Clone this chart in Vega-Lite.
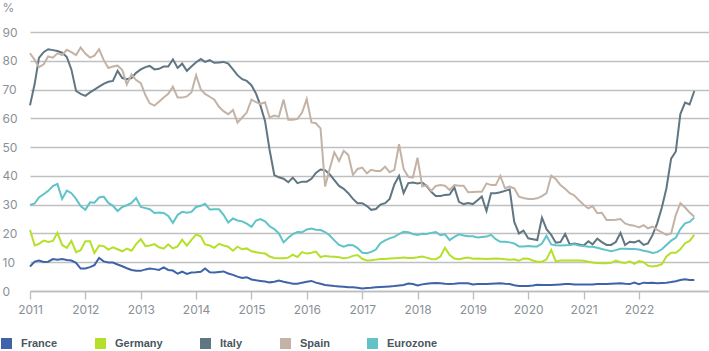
{
"$schema": "https://vega.github.io/schema/vega-lite/v6.json",
"width": 679, "height": 259,
"autosize": {"type": "none"},
"padding": {"left": 30, "top": 32, "right": 0, "bottom": 60},
"background": "white",
"config": {"view": {"stroke": null}, "font": "Inter"},
"data": {"values": [
{"d":"2011-01-01","France":8.5,"Germany":21.2,"Italy":64.5,"Spain":82.6,"Eurozone":29.9},
{"d":"2011-02-01","France":10.2,"Germany":15.8,"Italy":72,"Spain":80.3,"Eurozone":30.4},
{"d":"2011-03-01","France":10.6,"Germany":16.4,"Italy":81,"Spain":77.8,"Eurozone":32.5},
{"d":"2011-04-01","France":10.1,"Germany":17.5,"Italy":83,"Spain":78.8,"Eurozone":33.6},
{"d":"2011-05-01","France":10.2,"Germany":17,"Italy":84,"Spain":81.5,"Eurozone":34.8},
{"d":"2011-06-01","France":11.1,"Germany":17.4,"Italy":83.7,"Spain":81.1,"Eurozone":36.5},
{"d":"2011-07-01","France":10.9,"Germany":20.2,"Italy":83.4,"Spain":82.6,"Eurozone":37.2},
{"d":"2011-08-01","France":11.1,"Germany":16,"Italy":82.8,"Spain":82,"Eurozone":32},
{"d":"2011-09-01","France":10.8,"Germany":15,"Italy":81.3,"Spain":83.8,"Eurozone":34.9},
{"d":"2011-10-01","France":10.6,"Germany":17.4,"Italy":77,"Spain":83,"Eurozone":34},
{"d":"2011-11-01","France":9.8,"Germany":13.5,"Italy":69.5,"Spain":82,"Eurozone":32},
{"d":"2011-12-01","France":7.8,"Germany":14.2,"Italy":68.5,"Spain":84.6,"Eurozone":29.5},
{"d":"2012-01-01","France":7.8,"Germany":17.3,"Italy":67.8,"Spain":82.5,"Eurozone":28.2},
{"d":"2012-02-01","France":8.3,"Germany":17.3,"Italy":69,"Spain":81.1,"Eurozone":30.8},
{"d":"2012-03-01","France":9,"Germany":13.2,"Italy":70,"Spain":81.8,"Eurozone":30.7},
{"d":"2012-04-01","France":11.5,"Germany":15.8,"Italy":71,"Spain":84,"Eurozone":32.5},
{"d":"2012-05-01","France":10.3,"Germany":15.6,"Italy":72,"Spain":80.3,"Eurozone":32.8},
{"d":"2012-06-01","France":9.9,"Germany":14.4,"Italy":72.7,"Spain":77.5,"Eurozone":30.6},
{"d":"2012-07-01","France":9.9,"Germany":15.2,"Italy":73,"Spain":78,"Eurozone":29.6},
{"d":"2012-08-01","France":9.2,"Germany":14.5,"Italy":76.5,"Spain":78.3,"Eurozone":27.8},
{"d":"2012-09-01","France":8.6,"Germany":13.8,"Italy":74,"Spain":76.8,"Eurozone":29.2},
{"d":"2012-10-01","France":7.9,"Germany":14.7,"Italy":73.6,"Spain":71.8,"Eurozone":29.8},
{"d":"2012-11-01","France":7.3,"Germany":14,"Italy":74,"Spain":75.3,"Eurozone":30.6},
{"d":"2012-12-01","France":7,"Germany":16.3,"Italy":75.8,"Spain":73.3,"Eurozone":32.3},
{"d":"2013-01-01","France":7,"Germany":18,"Italy":77,"Spain":72.2,"Eurozone":29.2},
{"d":"2013-02-01","France":7.5,"Germany":15.6,"Italy":77.8,"Spain":68,"Eurozone":28.8},
{"d":"2013-03-01","France":7.8,"Germany":15.8,"Italy":78.2,"Spain":65.2,"Eurozone":28.4},
{"d":"2013-04-01","France":7.6,"Germany":16.3,"Italy":77,"Spain":64.4,"Eurozone":27.1},
{"d":"2013-05-01","France":7.3,"Germany":15.2,"Italy":77.2,"Spain":65.8,"Eurozone":27.3},
{"d":"2013-06-01","France":8.2,"Germany":14.7,"Italy":78,"Spain":67.2,"Eurozone":27.1},
{"d":"2013-07-01","France":7.3,"Germany":16.2,"Italy":78,"Spain":68.5,"Eurozone":26.1},
{"d":"2013-08-01","France":7.1,"Germany":14.8,"Italy":80.5,"Spain":71,"Eurozone":23.7},
{"d":"2013-09-01","France":6,"Germany":15.5,"Italy":77.5,"Spain":67.2,"Eurozone":26.4},
{"d":"2013-10-01","France":6.7,"Germany":17.8,"Italy":79,"Spain":67.2,"Eurozone":27.5},
{"d":"2013-11-01","France":5.9,"Germany":15.8,"Italy":76.5,"Spain":67.6,"Eurozone":27.2},
{"d":"2013-12-01","France":6.4,"Germany":17.8,"Italy":78,"Spain":69,"Eurozone":27.5},
{"d":"2014-01-01","France":6.5,"Germany":19.6,"Italy":79.5,"Spain":75,"Eurozone":29.2},
{"d":"2014-02-01","France":6.7,"Germany":19,"Italy":80.6,"Spain":70,"Eurozone":29.6},
{"d":"2014-03-01","France":7.8,"Germany":16.2,"Italy":79.6,"Spain":68.5,"Eurozone":30.3},
{"d":"2014-04-01","France":6.5,"Germany":15.8,"Italy":80.2,"Spain":67.5,"Eurozone":28.3},
{"d":"2014-05-01","France":6.4,"Germany":15,"Italy":79.3,"Spain":66.5,"Eurozone":28.4},
{"d":"2014-06-01","France":6.6,"Germany":16.4,"Italy":79.4,"Spain":64,"Eurozone":28.4},
{"d":"2014-07-01","France":6.8,"Germany":15.8,"Italy":79.6,"Spain":62.5,"Eurozone":26.5},
{"d":"2014-08-01","France":6.1,"Germany":15.4,"Italy":79,"Spain":61.4,"Eurozone":23.8},
{"d":"2014-09-01","France":5.6,"Germany":14,"Italy":77,"Spain":62.9,"Eurozone":25.2},
{"d":"2014-10-01","France":5,"Germany":15.4,"Italy":75,"Spain":58.5,"Eurozone":24.5},
{"d":"2014-11-01","France":4.5,"Germany":14.5,"Italy":73.6,"Spain":60.3,"Eurozone":24.2},
{"d":"2014-12-01","France":4.8,"Germany":14.8,"Italy":73,"Spain":62,"Eurozone":23.4},
{"d":"2015-01-01","France":4,"Germany":13.8,"Italy":71.5,"Spain":66.5,"Eurozone":22.3},
{"d":"2015-02-01","France":3.7,"Germany":13.5,"Italy":68.5,"Spain":65.6,"Eurozone":24.5},
{"d":"2015-03-01","France":3.5,"Germany":13.2,"Italy":64.5,"Spain":65,"Eurozone":25},
{"d":"2015-04-01","France":3.3,"Germany":13,"Italy":59,"Spain":65.6,"Eurozone":24.2},
{"d":"2015-05-01","France":3,"Germany":12,"Italy":49,"Spain":60.3,"Eurozone":22.5},
{"d":"2015-06-01","France":3.2,"Germany":11.5,"Italy":40.3,"Spain":61,"Eurozone":21.5},
{"d":"2015-07-01","France":3.6,"Germany":11.4,"Italy":39.5,"Spain":60.6,"Eurozone":20},
{"d":"2015-08-01","France":3.2,"Germany":11.4,"Italy":39,"Spain":66.5,"Eurozone":16.9},
{"d":"2015-09-01","France":2.9,"Germany":11.6,"Italy":37.8,"Spain":59.5,"Eurozone":18.5},
{"d":"2015-10-01","France":2.5,"Germany":12.6,"Italy":39.4,"Spain":59.5,"Eurozone":19.8},
{"d":"2015-11-01","France":2.5,"Germany":11.8,"Italy":37.5,"Spain":59.8,"Eurozone":20.5},
{"d":"2015-12-01","France":2.9,"Germany":13.5,"Italy":38,"Spain":62,"Eurozone":20.4},
{"d":"2016-01-01","France":3.2,"Germany":13,"Italy":38,"Spain":66.7,"Eurozone":21.4},
{"d":"2016-02-01","France":3.5,"Germany":13.3,"Italy":39,"Spain":58.6,"Eurozone":21.7},
{"d":"2016-03-01","France":2.9,"Germany":13.7,"Italy":41,"Spain":58.3,"Eurozone":21.3},
{"d":"2016-04-01","France":2.5,"Germany":11.8,"Italy":42.2,"Spain":56.5,"Eurozone":21.2},
{"d":"2016-05-01","France":2.1,"Germany":12.2,"Italy":42,"Spain":36.3,"Eurozone":20.5},
{"d":"2016-06-01","France":1.9,"Germany":12,"Italy":40.5,"Spain":42.6,"Eurozone":19.3},
{"d":"2016-07-01","France":1.7,"Germany":11.9,"Italy":38.5,"Spain":48.2,"Eurozone":17.6},
{"d":"2016-08-01","France":1.6,"Germany":11.7,"Italy":36.5,"Spain":45.2,"Eurozone":16},
{"d":"2016-09-01","France":1.5,"Germany":11.4,"Italy":35.5,"Spain":48.7,"Eurozone":15.4},
{"d":"2016-10-01","France":1.3,"Germany":11.6,"Italy":34,"Spain":47.3,"Eurozone":16},
{"d":"2016-11-01","France":1.3,"Germany":12.2,"Italy":32,"Spain":40.3,"Eurozone":15.9},
{"d":"2016-12-01","France":1.1,"Germany":12.5,"Italy":30.5,"Spain":42.4,"Eurozone":14.9},
{"d":"2017-01-01","France":0.9,"Germany":11.2,"Italy":30.5,"Spain":42.9,"Eurozone":13.3},
{"d":"2017-02-01","France":1,"Germany":10.6,"Italy":29.5,"Spain":40.9,"Eurozone":13.1},
{"d":"2017-03-01","France":1.1,"Germany":10.7,"Italy":28.2,"Spain":42.1,"Eurozone":13.6},
{"d":"2017-04-01","France":1.3,"Germany":10.9,"Italy":28.5,"Spain":41.7,"Eurozone":14.4},
{"d":"2017-05-01","France":1.4,"Germany":11.1,"Italy":30,"Spain":41.7,"Eurozone":16.6},
{"d":"2017-06-01","France":1.5,"Germany":11.1,"Italy":30.5,"Spain":43.2,"Eurozone":17.6},
{"d":"2017-07-01","France":1.6,"Germany":11.3,"Italy":32,"Spain":41.3,"Eurozone":18.3},
{"d":"2017-08-01","France":1.7,"Germany":11.4,"Italy":37,"Spain":42.1,"Eurozone":18.8},
{"d":"2017-09-01","France":1.9,"Germany":11.5,"Italy":40,"Spain":51,"Eurozone":19.8},
{"d":"2017-10-01","France":2.1,"Germany":11.6,"Italy":34,"Spain":42.4,"Eurozone":20.6},
{"d":"2017-11-01","France":2.6,"Germany":11.5,"Italy":37.5,"Spain":39.7,"Eurozone":20.4},
{"d":"2017-12-01","France":2.4,"Germany":11.5,"Italy":37.7,"Spain":39.4,"Eurozone":19.8},
{"d":"2018-01-01","France":1.9,"Germany":11.7,"Italy":37.4,"Spain":46.3,"Eurozone":19.5},
{"d":"2018-02-01","France":2.3,"Germany":12,"Italy":37.7,"Spain":36.3,"Eurozone":19.9},
{"d":"2018-03-01","France":2.5,"Germany":11.6,"Italy":36.5,"Spain":36.8,"Eurozone":19.8},
{"d":"2018-04-01","France":2.7,"Germany":11.1,"Italy":34.5,"Spain":34.8,"Eurozone":20.2},
{"d":"2018-05-01","France":2.8,"Germany":11,"Italy":33,"Spain":36.5,"Eurozone":20.5},
{"d":"2018-06-01","France":2.7,"Germany":12,"Italy":33,"Spain":36.8,"Eurozone":19.4},
{"d":"2018-07-01","France":2.5,"Germany":15,"Italy":33.4,"Spain":36.6,"Eurozone":19.7},
{"d":"2018-08-01","France":2.4,"Germany":12.5,"Italy":33.5,"Spain":35.1,"Eurozone":17.7},
{"d":"2018-09-01","France":2.5,"Germany":11.3,"Italy":36,"Spain":36.8,"Eurozone":18.8},
{"d":"2018-10-01","France":2.7,"Germany":11,"Italy":31,"Spain":36.6,"Eurozone":19.7},
{"d":"2018-11-01","France":2.7,"Germany":11.4,"Italy":30.2,"Spain":36.6,"Eurozone":19.3},
{"d":"2018-12-01","France":2.7,"Germany":11.6,"Italy":30.6,"Spain":34.3,"Eurozone":19},
{"d":"2019-01-01","France":2.3,"Germany":11.2,"Italy":30.2,"Spain":34.4,"Eurozone":19},
{"d":"2019-02-01","France":2.4,"Germany":11.3,"Italy":31.5,"Spain":34.5,"Eurozone":18.6},
{"d":"2019-03-01","France":2.4,"Germany":11.2,"Italy":32.8,"Spain":34.5,"Eurozone":18.8},
{"d":"2019-04-01","France":2.4,"Germany":11.1,"Italy":27.8,"Spain":37.4,"Eurozone":18.9},
{"d":"2019-05-01","France":2.5,"Germany":11.2,"Italy":34,"Spain":36.8,"Eurozone":19.5},
{"d":"2019-06-01","France":2.6,"Germany":11.3,"Italy":34,"Spain":36.8,"Eurozone":18},
{"d":"2019-07-01","France":2.7,"Germany":11.2,"Italy":34.3,"Spain":40,"Eurozone":17.1},
{"d":"2019-08-01","France":2.5,"Germany":11,"Italy":34.8,"Spain":35.7,"Eurozone":17.1},
{"d":"2019-09-01","France":2.4,"Germany":10.9,"Italy":35.3,"Spain":36.3,"Eurozone":16.9},
{"d":"2019-10-01","France":2,"Germany":11,"Italy":24,"Spain":35.7,"Eurozone":16.5},
{"d":"2019-11-01","France":1.7,"Germany":10.5,"Italy":20,"Spain":32.8,"Eurozone":15.5},
{"d":"2019-12-01","France":1.7,"Germany":11.3,"Italy":21,"Spain":32.3,"Eurozone":15.5},
{"d":"2020-01-01","France":1.7,"Germany":11.2,"Italy":18.3,"Spain":32,"Eurozone":15.6},
{"d":"2020-02-01","France":1.9,"Germany":10.6,"Italy":18,"Spain":32,"Eurozone":15.5},
{"d":"2020-03-01","France":2.2,"Germany":10.2,"Italy":17.7,"Spain":32.2,"Eurozone":15.5},
{"d":"2020-04-01","France":2.1,"Germany":10.2,"Italy":25.5,"Spain":33,"Eurozone":16.5},
{"d":"2020-05-01","France":2.1,"Germany":11,"Italy":21.5,"Spain":34,"Eurozone":19.2},
{"d":"2020-06-01","France":2.1,"Germany":14.3,"Italy":19.5,"Spain":40.1,"Eurozone":16.2},
{"d":"2020-07-01","France":2.2,"Germany":10.3,"Italy":16.8,"Spain":38.9,"Eurozone":15.9},
{"d":"2020-08-01","France":2.3,"Germany":10.6,"Italy":17,"Spain":36.8,"Eurozone":15.8},
{"d":"2020-09-01","France":2.4,"Germany":10.6,"Italy":19.8,"Spain":35.5,"Eurozone":15.9},
{"d":"2020-10-01","France":2.4,"Germany":10.6,"Italy":16.2,"Spain":34,"Eurozone":16},
{"d":"2020-11-01","France":2.3,"Germany":10.6,"Italy":16.5,"Spain":33.2,"Eurozone":16.2},
{"d":"2020-12-01","France":2.3,"Germany":10.6,"Italy":16.2,"Spain":31.5,"Eurozone":15.8},
{"d":"2021-01-01","France":2.3,"Germany":10.5,"Italy":15.8,"Spain":30,"Eurozone":15.6},
{"d":"2021-02-01","France":2.3,"Germany":10.2,"Italy":17.3,"Spain":28.7,"Eurozone":15.4},
{"d":"2021-03-01","France":2.3,"Germany":9.9,"Italy":16.2,"Spain":29.5,"Eurozone":15.4},
{"d":"2021-04-01","France":2.4,"Germany":9.7,"Italy":18.2,"Spain":27,"Eurozone":15},
{"d":"2021-05-01","France":2.4,"Germany":9.6,"Italy":17,"Spain":27.2,"Eurozone":14.6},
{"d":"2021-06-01","France":2.4,"Germany":9.6,"Italy":16,"Spain":24.7,"Eurozone":14.2},
{"d":"2021-07-01","France":2.5,"Germany":9.8,"Italy":16,"Spain":24.7,"Eurozone":13.8},
{"d":"2021-08-01","France":2.6,"Germany":10.6,"Italy":17,"Spain":24.8,"Eurozone":14.2},
{"d":"2021-09-01","France":2.7,"Germany":10,"Italy":20.2,"Spain":25,"Eurozone":14.7},
{"d":"2021-10-01","France":2.5,"Germany":9.7,"Italy":16,"Spain":23.5,"Eurozone":14.7},
{"d":"2021-11-01","France":2.4,"Germany":10.3,"Italy":17.1,"Spain":22.9,"Eurozone":14.6},
{"d":"2021-12-01","France":2.9,"Germany":9.4,"Italy":16.9,"Spain":22.7,"Eurozone":14.6},
{"d":"2022-01-01","France":2.4,"Germany":10.4,"Italy":17.5,"Spain":22.1,"Eurozone":14.4},
{"d":"2022-02-01","France":2.9,"Germany":10,"Italy":16,"Spain":22.9,"Eurozone":14},
{"d":"2022-03-01","France":2.8,"Germany":8.8,"Italy":16.5,"Spain":21.8,"Eurozone":13.7},
{"d":"2022-04-01","France":2.9,"Germany":8.5,"Italy":19.5,"Spain":22.4,"Eurozone":13.2},
{"d":"2022-05-01","France":2.7,"Germany":8.8,"Italy":23.5,"Spain":21.2,"Eurozone":13.5},
{"d":"2022-06-01","France":2.8,"Germany":9.3,"Italy":29,"Spain":20.4,"Eurozone":14.5},
{"d":"2022-07-01","France":2.9,"Germany":12,"Italy":35.7,"Spain":19.5,"Eurozone":16},
{"d":"2022-08-01","France":3.1,"Germany":13.3,"Italy":46,"Spain":20,"Eurozone":17.5},
{"d":"2022-09-01","France":3.4,"Germany":13.3,"Italy":48.5,"Spain":26.4,"Eurozone":18.5},
{"d":"2022-10-01","France":3.8,"Germany":14.5,"Italy":61.5,"Spain":30.5,"Eurozone":21.5},
{"d":"2022-11-01","France":4.1,"Germany":16.6,"Italy":65.5,"Spain":29,"Eurozone":23.5},
{"d":"2022-12-01","France":3.8,"Germany":17.4,"Italy":64.8,"Spain":27.3,"Eurozone":24},
{"d":"2023-01-01","France":3.8,"Germany":19.5,"Italy":69.5,"Spain":25.8,"Eurozone":25.5}
]},
"transform": [{"fold": ["France","Germany","Italy","Spain","Eurozone"], "as": ["country","value"]}],
"mark": {"type": "line", "strokeWidth": 2},
"encoding": {
  "x": {"field": "d", "type": "temporal",
    "scale": {"type": "utc", "domain": [{"year": 2011, "month": 1, "date": 1, "utc": true}, {"year": 2023, "month": 4, "date": 8, "utc": true}]},
    "axis": {"values": [{"year":2011,"utc":true},{"year":2012,"utc":true},{"year":2013,"utc":true},{"year":2014,"utc":true},{"year":2015,"utc":true},{"year":2016,"utc":true},{"year":2017,"utc":true},{"year":2018,"utc":true},{"year":2019,"utc":true},{"year":2020,"utc":true},{"year":2021,"utc":true},{"year":2022,"utc":true}],
      "format": "%Y", "title": null, "grid": false, "domain": true, "domainColor": "#bdbdbd", "domainWidth": 1.3,
      "ticks": true, "tickSize": 8, "tickColor": "#bdbdbd", "tickWidth": 1.3,
      "labelColor": "#8a9097", "labelFontSize": 12, "labelPadding": 5, "labelFlush": false}},
  "y": {"field": "value", "type": "quantitative",
    "scale": {"domain": [0, 90]},
    "axis": {"values": [0,10,20,30,40,50,60,70,80,90], "grid": true, "gridColor": "#c0c0c0", "gridWidth": 1.4,
      "domain": false, "ticks": false, "tickSize": 0, "labelAlign": "left", "labelBaseline": "middle", "labelPadding": 28,
      "labelColor": "#8a9097", "labelFontSize": 12,
      "title": "%", "titleAngle": 0, "titleX": -28, "titleY": -25, "titleAlign": "left", "titleBaseline": "middle",
      "titleColor": "#8a9097", "titleFontWeight": "normal", "titleFontSize": 12}},
  "color": {"field": "country", "type": "nominal",
    "scale": {"domain": ["France","Germany","Italy","Spain","Eurozone"], "range": ["#3f63a8","#b4e02b","#607683","#c3b3a6","#5fc3c7"]},
    "legend": {"orient": "none", "legendX": -29, "legendY": 306, "direction": "horizontal", "title": null,
      "symbolType": "square", "symbolSize": 121, "symbolStrokeWidth": 0, "labelOffset": 9, "columnPadding": 37,
      "labelFont": "Liberation Sans", "labelFontSize": 11, "labelFontWeight": "bold", "labelColor": "#4b5660",
      "encode": {"symbols": {"update": {"fill": {"scale": "color", "field": "value"}, "strokeWidth": {"value": 0}, "opacity": {"value": 1}}}}}}
}
}
